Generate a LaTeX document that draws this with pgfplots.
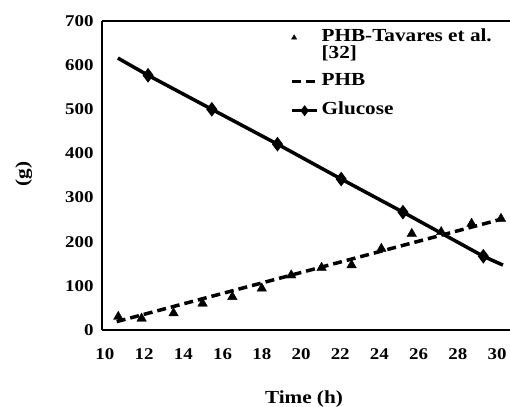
\documentclass[border=0pt]{standalone}
\usepackage{fontspec}
\setmainfont{Liberation Serif}[FakeStretch=1.15]
\usepackage{pgfplots}
\pgfplotsset{compat=1.18}
\pgfplotsset{
  triLeg/.style={legend image code/.code={\path (0cm,0cm) (0.9cm,0cm);
    \draw[##1, mark size=3bp] plot coordinates {(0.08cm,0cm)};}},
  lineLeg/.style={legend image code/.code={\draw[##1] (0cm,0cm) -- (0.9cm,0cm);}},
  glucLeg/.style={legend image code/.code={\draw[##1, line width=2.5bp, mark=none] (0cm,0cm) -- (0.9cm,0cm);
    \draw[##1, line width=2.5bp, mark size=3.5bp] plot coordinates {(0cm,0cm) (0.45cm,0cm)};}},
}
\begin{document}
\begin{tikzpicture}
\begin{axis}[
  scale only axis, width=408bp, height=309bp,
  xmin=9.85, xmax=30.66, ymin=0, ymax=700,
  axis x line*=box, axis y line*=left,
  axis line style={line width=1.8bp, black},
  xtick={10,12,...,30}, ytick={0,100,...,700},
  major tick length=0pt,
  /pgf/number format/assume math mode=true,
  tick label style={font=\fontsize{16.5}{19}\selectfont\bfseries},
  xticklabel style={yshift=-15bp},
  yticklabel style={xshift=-5bp},
  xlabel={Time (h)}, ylabel={(g)},
  label style={font=\fontsize{18.5}{21}\selectfont\bfseries},
  xlabel style={at={(axis description cs:0.495,-0.2233)}, anchor=center},
  ylabel style={at={(axis description cs:-0.192,0.505)}, anchor=center},
  legend style={draw=none, fill=none, inner sep=0pt, row sep=0pt,
    at={(axis description cs:0.4606,0.974)}, anchor=north west,
    font=\fontsize{18.5}{20}\selectfont\bfseries,
    nodes={inner ysep=0pt, inner xsep=2.5bp}},
  legend cell align=left,
]
\addplot[only marks, mark=triangle*, mark size=5.5bp, black, triLeg]
  coordinates {
  (10.68,30) (11.87,26) (13.5,38) (14.98,60) (16.5,75) (18.0,94)
  (19.5,124) (21.05,141) (22.58,147) (24.1,184) (25.65,218)
  (27.15,222) (28.7,241) (30.2,252)};
\addlegendentry[text height=12.5bp, text depth=4.5bp]{PHB-Tavares et al.}
\addlegendimage{empty legend}
\addlegendentry[text height=12.5bp, text depth=4.5bp]{[32]}
\addplot[black, line width=3.5bp, dash pattern=on 9bp off 5bp, lineLeg]
  coordinates {(10.6,19) (30.3,252)};
\addlegendentry[text height=22.5bp, text depth=14.5bp]{PHB}
\addplot[black, line width=3.5bp, mark=diamond*, mark size=4.5bp,
  mark indices={2,3,4,5,6,7}, glucLeg]
  coordinates {
  (10.66,616) (12.2,577) (15.45,500) (18.8,421) (22.05,342)
  (25.2,267) (29.3,167) (30.3,147)};
\addlegendentry[text height=14.5bp, text depth=6.5bp]{Glucose}
\end{axis}
\pgfresetboundingbox
\path ([shift={(-102bp,-77bp)}]current axis.south west)
  rectangle ([shift={(0bp,21bp)}]current axis.north east);
\end{tikzpicture}
\end{document}
